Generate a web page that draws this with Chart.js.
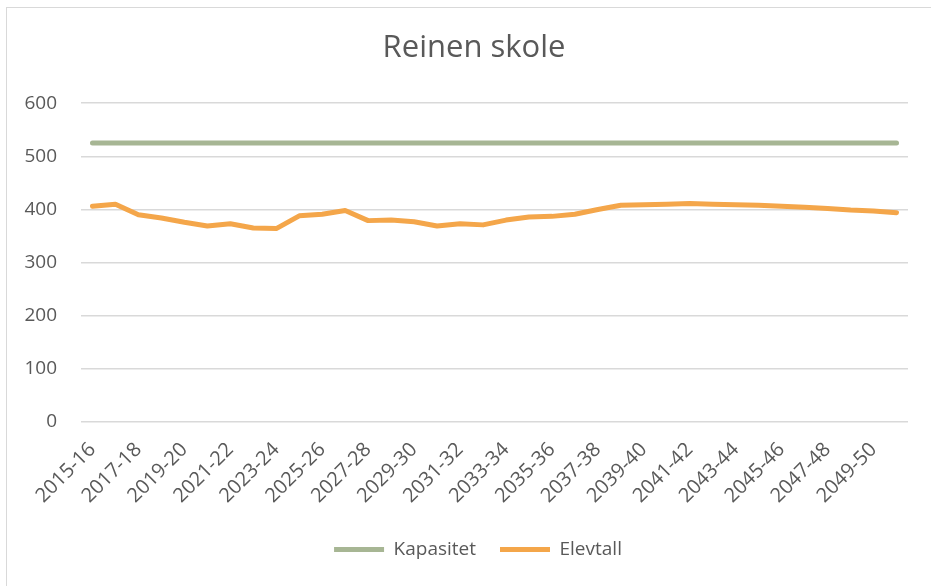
<!DOCTYPE html>
<html>
<head>
<meta charset="utf-8">
<script src="https://cdn.jsdelivr.net/npm/chart.js@4"></script>
<style>
    html, body { margin: 0; padding: 0; background: #fff; overflow: hidden; }
    #wrap { position: relative; width: 931px; height: 586px; }
    /* Excel chart frame - only left and top edge are visible in the crop */
    #frame {
        position: absolute; left: 6px; top: 7px; width: 960px; height: 620px;
        border-left: 1.5px solid #d9d9d9; border-top: 1.5px solid #d9d9d9;
    }
    canvas { position: absolute; left: 0; top: 0; }
</style>
</head>
<body>
<div id="wrap">
    <div id="frame"></div>
    <canvas id="reinenChart" width="931" height="586"></canvas>
</div>
<script>
// --- Data ---
const schoolYears = [
    "2015-16", "2016-17", "2017-18", "2018-19", "2019-20", "2020-21",
    "2021-22", "2022-23", "2023-24", "2024-25", "2025-26", "2026-27",
    "2027-28", "2028-29", "2029-30", "2030-31", "2031-32", "2032-33",
    "2033-34", "2034-35", "2035-36", "2036-37", "2037-38", "2038-39",
    "2039-40", "2040-41", "2041-42", "2042-43", "2043-44", "2044-45",
    "2045-46", "2046-47", "2047-48", "2048-49", "2049-50", "2050-51"
];
const kapasitet = [
    525, 525, 525, 525, 525, 525, 525, 525, 525, 525, 525, 525,
    525, 525, 525, 525, 525, 525, 525, 525, 525, 525, 525, 525,
    525, 525, 525, 525, 525, 525, 525, 525, 525, 525, 525, 525
];
const elevtall = [
    406, 410, 390, 384, 376, 369, 373, 365, 364, 388, 391, 398,
    379, 380, 377, 369, 373, 371, 380, 386, 387, 391, 400, 408,
    409, 410, 411, 410, 409, 408, 406, 404, 402, 399, 397, 394
];
const yTicks = [0, 100, 200, 300, 400, 500, 600];

const textColor = '#595959';
const fontFamily = '"Open Sans", "Liberation Sans", sans-serif';

const ctx = document.getElementById('reinenChart').getContext('2d');

const lineStyle = {
    pointRadius: 0,
    pointHoverRadius: 0,
    borderWidth: 5,
    tension: 0,
    fill: false,
    borderCapStyle: 'round',
    borderJoinStyle: 'round'
};

// Excel centres title + legend over the plot area, not the whole canvas.
// Nudge those two boxes to the right after layout.
const centreOverPlot = {
    id: 'centreOverPlot',
    afterLayout(chart) {
        if (chart.legend) chart.legend.left += 48;
        if (chart.titleBlock) chart.titleBlock.left += 40;
    }
};

new Chart(ctx, {
    type: 'line',
    data: {
        labels: schoolYears,
        datasets: [
            { label: 'Kapasitet', data: kapasitet, borderColor: '#A7B694', backgroundColor: '#A7B694', ...lineStyle },
            { label: 'Elevtall', data: elevtall, borderColor: '#F4A64A', backgroundColor: '#F4A64A', ...lineStyle }
        ]
    },
    plugins: [centreOverPlot],
    options: {
        responsive: false,
        animation: false,
        layout: { padding: { left: 0, right: 23, top: 0, bottom: 17 } },
        scales: {
            y: {
                min: 0,
                max: 600,
                afterBuildTicks: (scale) => { scale.ticks = yTicks.map(v => ({ value: v })); },
                afterFit: (scale) => { scale.width = 81; },
                ticks: {
                    color: textColor,
                    padding: 24,
                    font: { family: fontFamily, size: 19 }
                },
                grid: { color: '#d9d9d9', lineWidth: 1.5, drawTicks: false },
                border: { display: false }
            },
            x: {
                offset: true,
                afterFit: (scale) => { scale.height = 94; },
                ticks: {
                    color: textColor,
                    autoSkip: false,
                    maxRotation: 45,
                    minRotation: 45,
                    padding: 16,
                    font: { family: fontFamily, size: 20 },
                    // every second school year is labelled
                    callback: function (value, index) {
                        return index % 2 === 0 ? this.getLabelForValue(value) : '';
                    }
                },
                grid: { display: false, drawTicks: false },
                border: { display: false }
            }
        },
        plugins: {
            title: {
                display: true,
                text: 'Reinen skole',
                color: textColor,
                font: { family: fontFamily, size: 31, weight: 'normal' },
                padding: { top: 30, bottom: 36 }
            },
            legend: {
                display: true,
                position: 'bottom',
                labels: {
                    color: textColor,
                    font: { family: fontFamily, size: 19 },
                    usePointStyle: true,
                    pointStyle: 'line',
                    pointStyleWidth: 50,
                    padding: 24
                }
            },
            tooltip: { enabled: false }
        }
    }
});
</script>
</body>
</html>
